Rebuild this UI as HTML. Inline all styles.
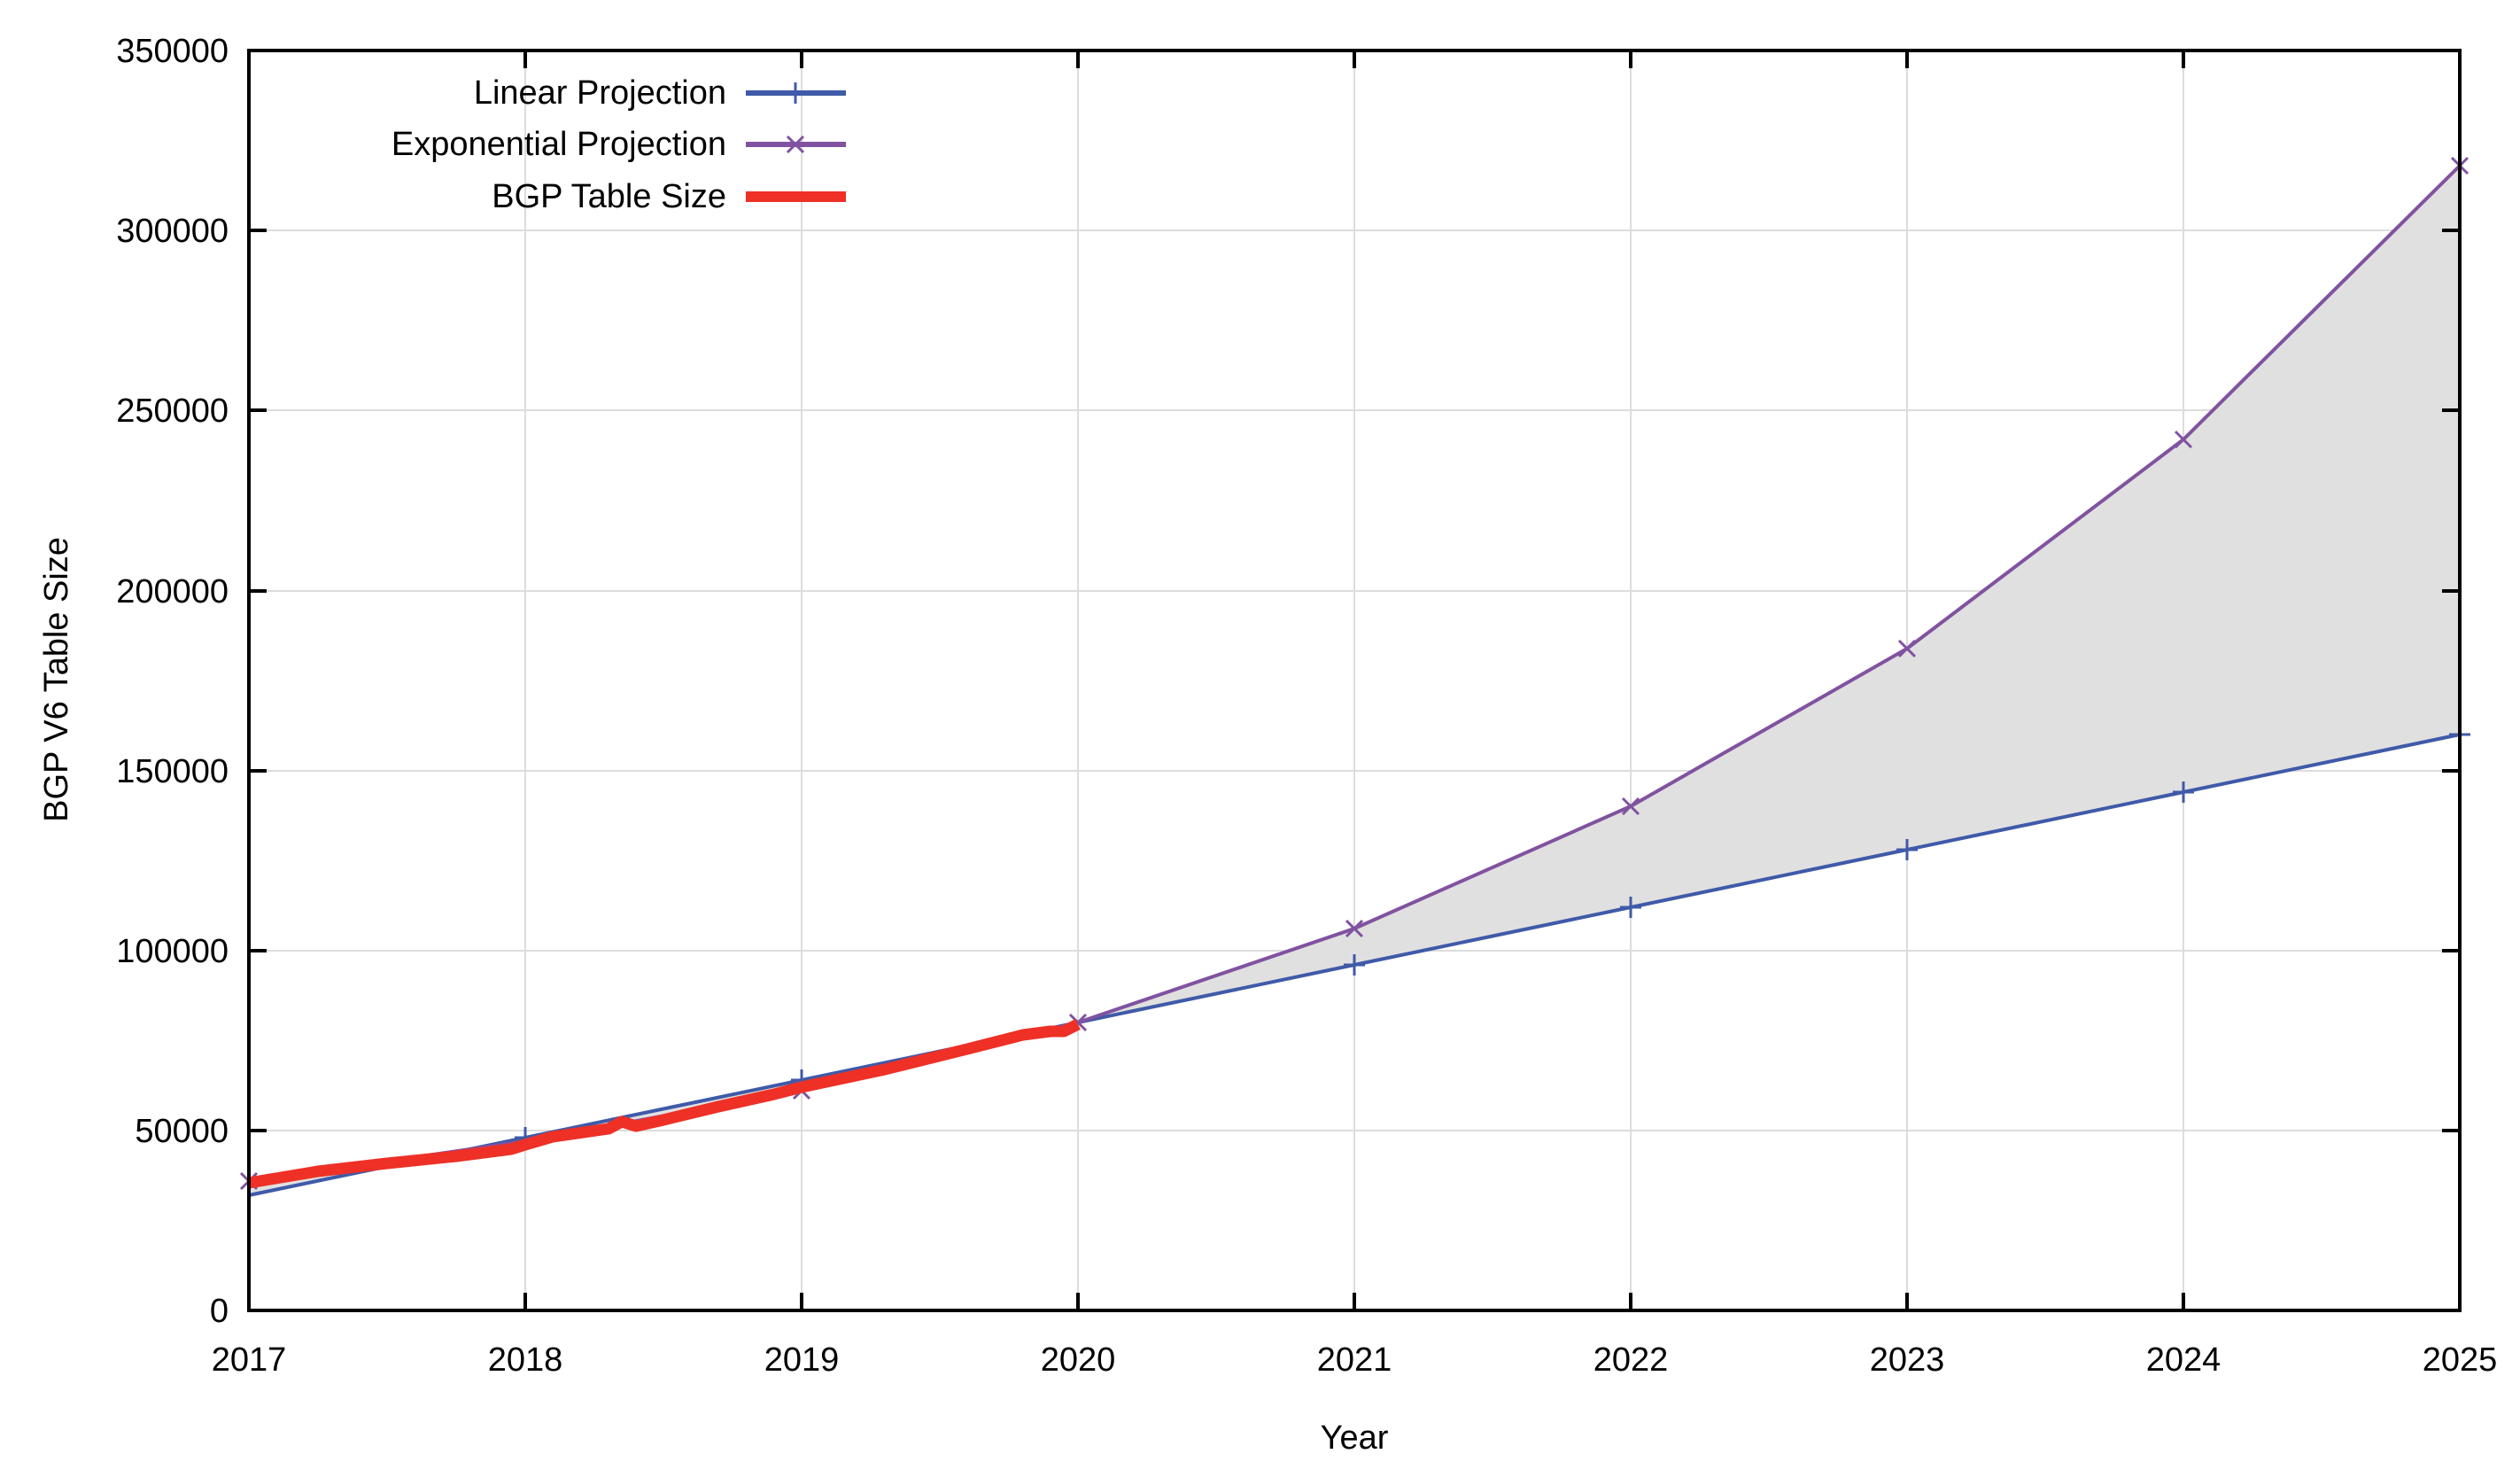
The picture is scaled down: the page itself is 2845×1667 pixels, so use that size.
<!DOCTYPE html>
<html><head><meta charset="utf-8"><style>
html,body{margin:0;padding:0;background:#fff;}
svg{display:block;font-family:"Liberation Sans",sans-serif;}
</style></head><body>
<svg width="2845" height="1667" viewBox="0 0 2845 1667" xmlns="http://www.w3.org/2000/svg">
<rect width="2845" height="1667" fill="#fff"/>
<g stroke="#dcdcdc" stroke-width="2">
<line x1="593" y1="57" x2="593" y2="1479"/><line x1="905" y1="57" x2="905" y2="1479"/>
<line x1="1217" y1="57" x2="1217" y2="1479"/><line x1="1529" y1="57" x2="1529" y2="1479"/>
<line x1="1841" y1="57" x2="1841" y2="1479"/><line x1="2153" y1="57" x2="2153" y2="1479"/>
<line x1="2465" y1="57" x2="2465" y2="1479"/>
<line x1="281" y1="1276" x2="2777" y2="1276"/><line x1="281" y1="1073" x2="2777" y2="1073"/>
<line x1="281" y1="870" x2="2777" y2="870"/><line x1="281" y1="667" x2="2777" y2="667"/>
<line x1="281" y1="463" x2="2777" y2="463"/><line x1="281" y1="260" x2="2777" y2="260"/>
</g>
<polygon fill="#e0e0e0" points="281,1333 593,1288 905,1231 1217,1154 1529,1048 1841,910 2153,732 2465,496 2777,187 2777,829 2465,894 2153,959 1841,1024 1529,1089 1217,1154 905,1219 593,1284 281,1349"/>
<polyline fill="none" stroke="#3f5aa8" stroke-width="4" points="281,1349 593,1284 905,1219 1217,1154 1529,1089 1841,1024 2153,959 2465,894 2777,829"/>
<g stroke="#3f5aa8" stroke-width="3">
<path d="M593,1272v24M581,1284h24M905,1207v24M893,1219h24M1529,1077v24M1517,1089h24M1841,1012v24M1829,1024h24M2153,947v24M2141,959h24M2465,882v24M2453,894h24M2777,817v24M2765,829h24"/>
</g>
<polyline fill="none" stroke="#8052a0" stroke-width="4" points="281,1333 593,1288 905,1231 1217,1154 1529,1048 1841,910 2153,732 2465,496 2777,187"/>
<g stroke="#8052a0" stroke-width="3">
<path d="M272,1324l18,18M290,1324l-18,18M896,1222l18,18M914,1222l-18,18M1208,1145l18,18M1226,1145l-18,18M1520,1039l18,18M1538,1039l-18,18M1832,901l18,18M1850,901l-18,18M2144,723l18,18M2162,723l-18,18M2456,487l18,18M2474,487l-18,18M2768,178l18,18M2786,178l-18,18"/>
</g>
<polyline fill="none" stroke="#ee3026" stroke-width="13" stroke-linejoin="round" points="281,1335 359,1322 437,1313 515,1305 577,1297 593,1292 624,1283 687,1274 702,1266 718,1271 749,1264 811,1249 874,1235 905,1227 999,1207 1092,1184 1155,1168 1186,1164 1201,1164 1217,1156"/>
<rect x="281" y="57" width="2496" height="1422" fill="none" stroke="#000" stroke-width="4"/>
<g stroke="#000" stroke-width="4">
<path d="M593,1479v-20M905,1479v-20M1217,1479v-20M1529,1479v-20M1841,1479v-20M2153,1479v-20M2465,1479v-20"/>
<path d="M593,57v20M905,57v20M1217,57v20M1529,57v20M1841,57v20M2153,57v20M2465,57v20"/>
<path d="M281,1276h20M281,1073h20M281,870h20M281,667h20M281,463h20M281,260h20"/>
<path d="M2777,1276h-20M2777,1073h-20M2777,870h-20M2777,667h-20M2777,463h-20M2777,260h-20"/>
</g>
<g font-size="38" fill="#000" text-anchor="end">
<text x="258" y="1492">0</text><text x="258" y="1289">50000</text><text x="258" y="1086">100000</text>
<text x="258" y="883">150000</text><text x="258" y="680">200000</text><text x="258" y="476">250000</text>
<text x="258" y="273">300000</text><text x="258" y="70">350000</text>
</g>
<g font-size="38" fill="#000" text-anchor="middle">
<text x="281" y="1547">2017</text><text x="593" y="1547">2018</text><text x="905" y="1547">2019</text>
<text x="1217" y="1547">2020</text><text x="1529" y="1547">2021</text><text x="1841" y="1547">2022</text>
<text x="2153" y="1547">2023</text><text x="2465" y="1547">2024</text><text x="2777" y="1547">2025</text>
<text x="1529" y="1635">Year</text>
<text transform="translate(76,767) rotate(-90)">BGP V6 Table Size</text>
</g>
<g font-size="38" fill="#000" text-anchor="end">
<text x="820" y="117">Linear Projection</text>
<text x="820" y="175">Exponential Projection</text>
<text x="820" y="234">BGP Table Size</text>
</g>
<line x1="842" y1="105" x2="955" y2="105" stroke="#3f5aa8" stroke-width="6"/>
<path d="M898,93v24" stroke="#3f5aa8" stroke-width="3"/>
<line x1="842" y1="163" x2="955" y2="163" stroke="#8052a0" stroke-width="6"/>
<path d="M889,154l18,18M907,154l-18,18" stroke="#8052a0" stroke-width="3"/>
<line x1="842" y1="222" x2="955" y2="222" stroke="#ee3026" stroke-width="12"/>
</svg>
</body></html>
